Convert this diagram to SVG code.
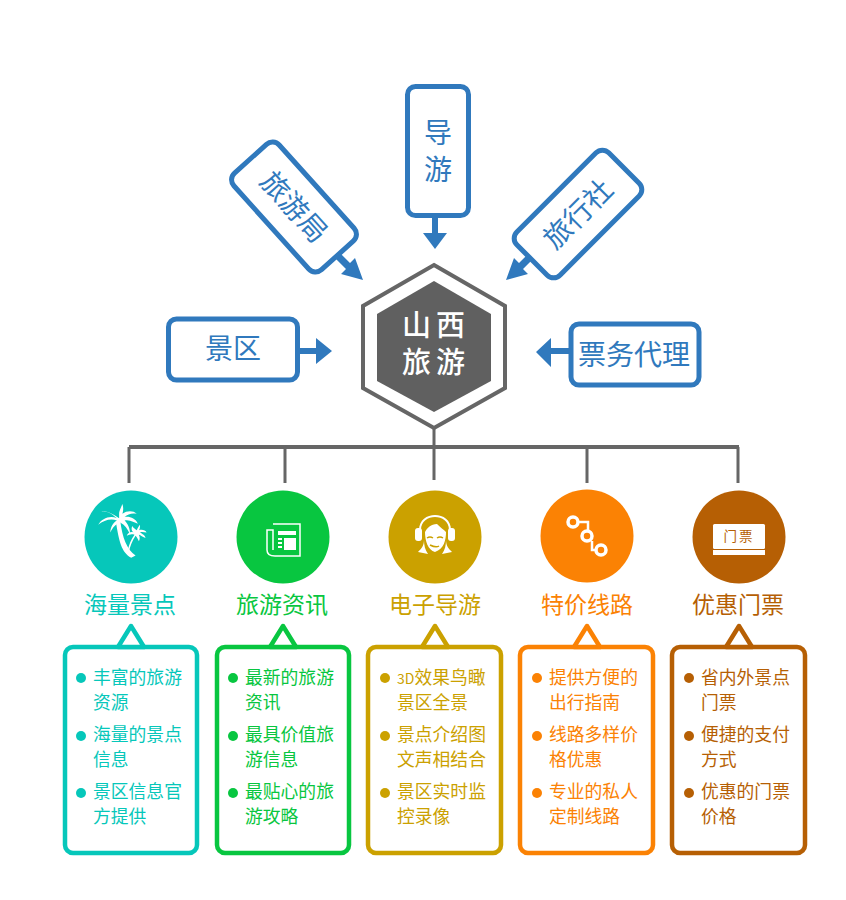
<svg xmlns="http://www.w3.org/2000/svg" width="846" height="900" viewBox="0 0 846 900">
<style>
text{font-family:"Noto Sans CJK SC","Liberation Sans",sans-serif}
.b{fill:#fff;stroke:#3079bd;stroke-width:5}
.bt{fill:#3079bd;font-size:28px;text-anchor:middle}
.l{stroke:#666;fill:none;stroke-linecap:butt}
.ttl{font-size:23px;text-anchor:middle}
.it{font-size:17.800px}
.card{fill:#fff;stroke-width:4.5}
.tri{fill:#fff;stroke-width:4.5;stroke-linejoin:round}
.teal{fill:#06c7ba;stroke:#06c7ba}.green{fill:#08c640;stroke:#08c640}.gold{fill:#cba100;stroke:#cba100}.orange{fill:#fb8204;stroke:#fb8204}.brown{fill:#b65f04;stroke:#b65f04}
text.teal,text.green,text.gold,text.orange,text.brown{stroke:none}
.card.teal,.card.green,.card.gold,.card.orange,.card.brown,.tri.teal,.tri.green,.tri.gold,.tri.orange,.tri.brown{fill:#fff}
circle{stroke:none!important}
</style>
<g id="connectors">
<path class="l" stroke-width="4" d="M129 447H739"/>
<path class="l" stroke-width="3" d="M434 426V480M129 447V483M285 447V483M587 447V483M738 447V483"/>
<g fill="#3079bd" stroke="none">
<path d="M432 216h6v17h9l-12 16-12-16h9z"/>
<path d="M296 348h20v-10l16 13-16 13v-10h-20z"/>
<path d="M569 348v6h-18v13l-15-15 15-14v10z"/>
<path d="M336 258l4-4 10 10 5-5 8 22-22-6 5-5-10-10z" transform="translate(0,-1)"/>
<path d="M528 263l-4-4-10 10-5-5-8 22 22-6-5-5 10-10z" transform="translate(5,-6)"/>
</g>
</g>
<g id="n-daoyou"><rect class="b" x="407.500" y="86.500" width="61" height="129" rx="8"/><text class="bt" x="438" y="143">导</text><text class="bt" x="438" y="180">游</text></g>
<g id="n-lvyouju" transform="rotate(48 294 207)"><rect class="b" x="229" y="176.500" width="130" height="61" rx="9"/><text class="bt" x="294" y="217">旅游局</text></g>
<g id="n-lvxingshe" transform="rotate(-45 578 214)"><rect class="b" x="513" y="183.500" width="130" height="61" rx="9"/><text class="bt" x="578" y="224">旅行社</text></g>
<g id="n-jingqu"><rect class="b" x="168.500" y="319" width="129" height="61" rx="8"/><text class="bt" x="233" y="359">景区</text></g>
<g id="n-piaowu"><rect class="b" x="571" y="324" width="128" height="61" rx="8"/><text class="bt" x="634" y="365">票务代理</text></g>
<g id="n-center">
<path fill="#fff" stroke="#666" stroke-width="4" d="M434 265L505 306V388L434 428L363 388V306Z"/>
<path fill="#606060" d="M434 281L491 314V381L434 412L377 381V314Z"/>
<text x="436" y="336" fill="#fff" font-size="29" font-weight="500" text-anchor="middle" letter-spacing="5">山西</text>
<text x="436" y="373" fill="#fff" font-size="29" font-weight="500" text-anchor="middle" letter-spacing="5">旅游</text>
</g>
<g id="c1">
<circle class="teal" cx="131" cy="537" r="46.500"/>
<g fill="#fff" transform="translate(-14,-56) scale(1.1)"><path d="M118 525c3 18 5 28 14 33l4-2c-8-6-12-16-14-32z"/><path d="M121 522c-8-6-15-7-16-6 5-1 10 2 14 6-6-3-14 0-17 6 5-4 11-6 17-4-4 2-6 7-6 11 2-4 5-8 9-9 4 2 7 6 9 11 0-6-2-10-5-13 5-1 9 2 12 3-2-5-8-7-12-6 3-3 7-4 11-3-3-3-9-3-13 0 1-3 1-6 0-9-1 3-3 6-3 9z"/><path d="M136 538c-3 4-5 10-6 14l-1-1c1-5 3-10 6-14-3-1-5 0-7 1 1-3 4-4 6-3-2-2-2-4-1-6 1 2 3 3 4 4 1-2 2-4 3-5 0 2 0 4-1 5 3-1 6 0 7 2-2 0-4-1-6 0 2 1 5 3 5 5-3-1-5-3-6-3 1 2 1 4 0 6-1-2-2-4-3-5z"/></g>
<text class="ttl teal" x="130" y="613">海量景点</text>
<rect class="card teal" x="65" y="647" width="132" height="206" rx="8"/>
<path class="tri teal" d="M118 647L131 626L144 647Z"/>
<g class="it"><circle class="teal" cx="81" cy="678" r="5"/><text class="teal" x="93" y="684">丰富的旅游</text><text class="teal" x="93" y="709">资源</text><circle class="teal" cx="81" cy="736" r="5"/><text class="teal" x="93" y="741">海量的景点</text><text class="teal" x="93" y="766">信息</text><circle class="teal" cx="81" cy="793" r="5"/><text class="teal" x="93" y="798">景区信息官</text><text class="teal" x="93" y="823">方提供</text></g>
</g>
<g id="c2">
<circle class="green" cx="283" cy="537" r="46.500"/>
<g><path fill="none" stroke="#fff" stroke-width="1.500" d="M273 524H300V556H275Q267 556 267 550V530H273V550"/><path fill="#fff" d="M278 531H296V535H278zM278 538H282V540H278zM278 542H282V544H278zM278 546H282V548H278zM284 538H296V550H284z"/></g>
<text class="ttl green" x="282" y="613">旅游资讯</text>
<rect class="card green" x="217" y="647" width="132" height="206" rx="8"/>
<path class="tri green" d="M270 647L283 626L296 647Z"/>
<g class="it"><circle class="green" cx="233" cy="678" r="5"/><text class="green" x="245" y="684">最新的旅游</text><text class="green" x="245" y="709">资讯</text><circle class="green" cx="233" cy="736" r="5"/><text class="green" x="245" y="741">最具价值旅</text><text class="green" x="245" y="766">游信息</text><circle class="green" cx="233" cy="793" r="5"/><text class="green" x="245" y="798">最贴心的旅</text><text class="green" x="245" y="823">游攻略</text></g>
</g>
<g id="c3">
<circle class="gold" cx="435" cy="537" r="46.500"/>
<g fill="#fff"><path d="M421 530c0-9 7-13 14-13s14 4 14 13l2 0c0-10-8-15-16-15s-16 5-16 15z"/><rect x="415" y="528" width="7" height="13" rx="3"/><rect x="448" y="528" width="7" height="13" rx="3"/><path d="M425 532c2-4 6-8 12-8 3 3 7 6 9 8 0 8-2 17-11 20-7-2-10-11-10-20z"/><path d="M424 540c0 6-3 9-6 12l10 2c-3-4-4-9-4-14zM446 540c0 6 3 9 6 12l-10 2c3-4 4-9 4-14z"/></g>
<path fill="none" stroke="#cba100" stroke-width="1.500" d="M427 538q3-2 6 0M437 538q3-2 6 0M430 545q6 3 9 1"/>
<text class="ttl gold" x="435" y="613">电子导游</text>
<rect class="card gold" x="368" y="647" width="133" height="206" rx="8"/>
<path class="tri gold" d="M422 647L435 626L448 647Z"/>
<g class="it"><circle class="gold" cx="385" cy="678" r="5"/><text class="gold" x="397" y="684"><tspan font-size="14">3D</tspan>效果鸟瞰</text><text class="gold" x="397" y="709">景区全景</text><circle class="gold" cx="385" cy="736" r="5"/><text class="gold" x="397" y="741">景点介绍图</text><text class="gold" x="397" y="766">文声相结合</text><circle class="gold" cx="385" cy="793" r="5"/><text class="gold" x="397" y="798">景区实时监</text><text class="gold" x="397" y="823">控录像</text></g>
</g>
<g id="c4">
<circle class="orange" cx="587" cy="536" r="46.500"/>
<path fill="none" stroke="#fff" stroke-width="2.500" d="M579 522H588V535M592 541V550H599"/>
<g fill="#fb8204" stroke="#fff" stroke-width="3.500"><circle style="stroke:#fff!important" cx="573" cy="522" r="5"/><circle style="stroke:#fff!important" cx="587" cy="536" r="5"/><circle style="stroke:#fff!important" cx="601" cy="550" r="5"/></g>
<text class="ttl orange" x="587" y="613">特价线路</text>
<rect class="card orange" x="520" y="647" width="133" height="206" rx="8"/>
<path class="tri orange" d="M574 647L587 626L600 647Z"/>
<g class="it"><circle class="orange" cx="537" cy="678" r="5"/><text class="orange" x="549" y="684">提供方便的</text><text class="orange" x="549" y="709">出行指南</text><circle class="orange" cx="537" cy="736" r="5"/><text class="orange" x="549" y="741">线路多样价</text><text class="orange" x="549" y="766">格优惠</text><circle class="orange" cx="537" cy="793" r="5"/><text class="orange" x="549" y="798">专业的私人</text><text class="orange" x="549" y="823">定制线路</text></g>
</g>
<g id="c5">
<circle class="brown" cx="739" cy="537" r="46.500"/>
<rect x="713" y="524" width="52" height="25" rx="1.500" fill="#fff"/><rect x="713" y="550" width="52" height="5" fill="#fff"/>
<text x="739" y="541" fill="#b65f04" font-size="13.500" text-anchor="middle" letter-spacing="2">门票</text>
<text class="ttl brown" x="738" y="613">优惠门票</text>
<rect class="card brown" x="672" y="647" width="133" height="206" rx="8"/>
<path class="tri brown" d="M726 647L739 626L752 647Z"/>
<g class="it"><circle class="brown" cx="689" cy="678" r="5"/><text class="brown" x="701" y="684">省内外景点</text><text class="brown" x="701" y="709">门票</text><circle class="brown" cx="689" cy="736" r="5"/><text class="brown" x="701" y="741">便捷的支付</text><text class="brown" x="701" y="766">方式</text><circle class="brown" cx="689" cy="793" r="5"/><text class="brown" x="701" y="798">优惠的门票</text><text class="brown" x="701" y="823">价格</text></g>
</g>
</svg>
